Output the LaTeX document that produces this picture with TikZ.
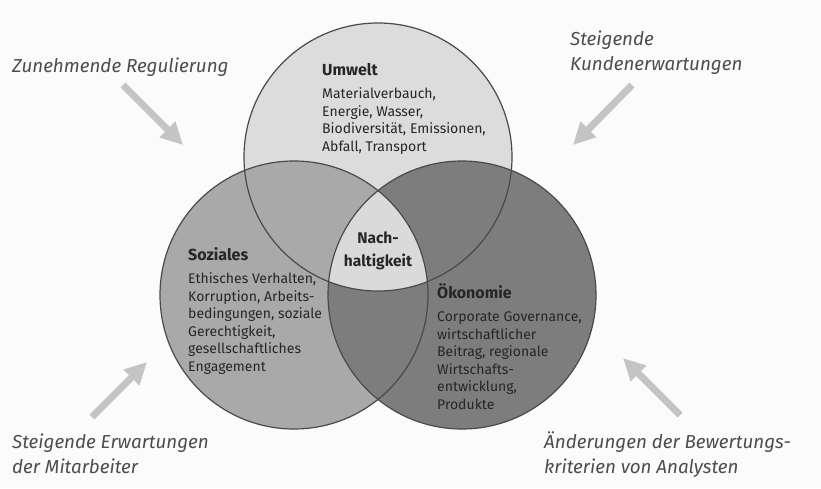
\documentclass[tikz,border=0pt]{standalone}
\usepackage{fontspec}
\setmainfont{Fira Sans}
\usetikzlibrary{arrows.meta}
\definecolor{bg}{HTML}{FBFBFB}
\definecolor{umw}{HTML}{DCDCDC}
\definecolor{soz}{HTML}{A9A9A9}
\definecolor{oek}{HTML}{7D7D7D}
\definecolor{ctr}{HTML}{DADADA}
\definecolor{ringcol}{HTML}{4A4A4A}
\definecolor{txt}{HTML}{262626}
\definecolor{lbl}{HTML}{4D4D4D}
\definecolor{arr}{HTML}{C4C4C4}
\begin{document}
\begin{tikzpicture}[x=1pt,y=-1pt,
  ringc/.style={circle,draw=ringcol,line width=1.2pt,minimum size=268pt,inner sep=0pt},
  title/.style={inner sep=0pt,anchor=base west,text=txt,font=\fontsize{16}{18}\selectfont\bfseries},
  body/.style={inner sep=0pt,anchor=north west,align=left,text=txt,font=\fontsize{14}{17.5}\selectfont},
  outer/.style={inner sep=0pt,anchor=base west,text=lbl,font=\fontsize{18.8}{22}\selectfont\itshape},
  push/.style={draw=arr,line width=7pt,-{Triangle[width=21pt,length=22pt]}}]
\useasboundingbox (0,0) rectangle (821,488);
\fill[bg] (0,0) rectangle (821,488);
% circle centres
\coordinate (pU) at (378,157);
\coordinate (pS) at (294,295);
\coordinate (pO) at (462,295);
% fills
\fill[umw] (pU) circle (134pt);
\fill[soz] (pS) circle (134pt);
\fill[oek] (pO) circle (134pt);
\begin{scope}
  \clip (pU) circle (134pt);
  \clip (pS) circle (134pt);
  \fill[ctr] (pO) circle (134pt);
\end{scope}
% outlines
\node[ringc] (cU) at (pU) {};
\node[ringc] (cS) at (pS) {};
\node[ringc] (cO) at (pO) {};
% circle texts
\node[title] (tU) at (322,75) {Umwelt};
\node[body] (bU) at (322,87.5) {Materialverbauch,\\Energie, Wasser,\\Biodiversität, Emissionen,\\Abfall, Transport};
\node[title] (tS) at (188,260.5) {Soziales};
\node[body] (bS) at (188,272.5) {Ethisches Verhalten,\\Korruption, Arbeits-\\bedingungen, soziale\\Gerechtigkeit,\\gesellschaftliches\\Engagement};
\node[title] (tO) at (437,298.5) {Ökonomie};
\node[body] (bO) at (437,311.5) {Corporate Governance,\\wirtschaftlicher\\Beitrag, regionale\\Wirtschafts-\\entwicklung,\\Produkte};
\node[inner sep=0pt,align=center,text=txt,font=\fontsize{15.5}{23}\selectfont\bfseries] (tN) at (378,251) {Nach-\\haltigkeit};
% outer labels
\node[outer] (lR) at (12,72) {Zunehmende Regulierung};
\node[outer] (lK1) at (570,45) {Steigende};
\node[outer] (lK2) at (570,70.5) {Kundenerwartungen};
\node[outer] (lM1) at (12,448) {Steigende Erwartungen};
\node[outer] (lM2) at (12,473) {der Mitarbeiter};
\node[outer] (lA1) at (544,448) {Änderungen der Bewertungs-};
\node[outer] (lA2) at (544,473) {kriterien von Analysten};
% arrows
\coordinate (a1s) at (123,85);  \coordinate (a1e) at (183,145);
\coordinate (a2s) at (632,85);  \coordinate (a2e) at (573,145);
\coordinate (a3s) at (92,417);  \coordinate (a3e) at (147,362);
\coordinate (a4s) at (680,415); \coordinate (a4e) at (623,358);
\draw[push] (a1s) -- (a1e);
\draw[push] (a2s) -- (a2e);
\draw[push] (a3s) -- (a3e);
\draw[push] (a4s) -- (a4e);
\end{tikzpicture}
\end{document}
